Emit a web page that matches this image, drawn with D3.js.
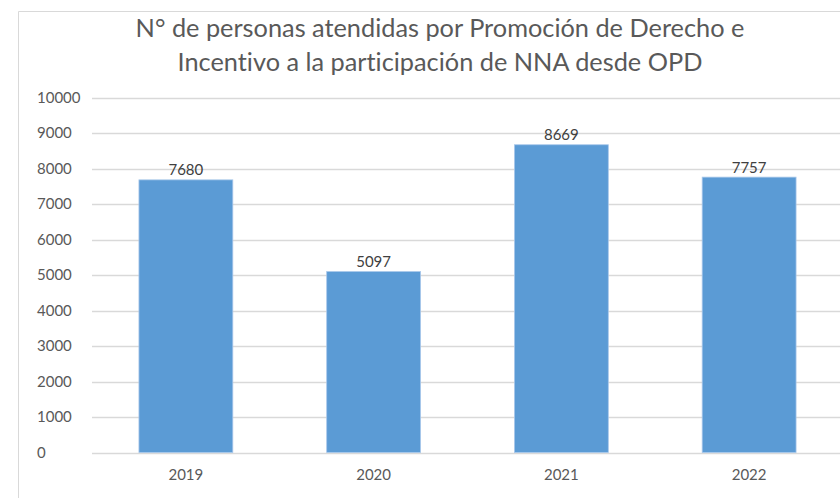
<!DOCTYPE html>
<html>
<head>
<meta charset="utf-8">
<script src="https://cdn.jsdelivr.net/npm/d3@7"></script>
<style>
  html, body { margin: 0; padding: 0; background: #fff; }
  svg { display: block; font-family: Lato, "Open Sans", sans-serif; font-variant-ligatures: none; }
</style>
</head>
<body>
<svg id="chart" width="840" height="498"></svg>
<script>
// data
var years = ["2019", "2020", "2021", "2022"]
var personas = [7680, 5097, 8669, 7757]
var yTicks = [0, 1000, 2000, 3000, 4000, 5000, 6000, 7000, 8000, 9000, 10000]
var titleLines = [
    "N° de personas atendidas por Promoción de Derecho e",
    "Incentivo a la participación de NNA desde OPD"
]

var svg = d3.select("#chart")

var x = d3.scaleBand()
    .domain(years)
    .range([92, 843])
    .paddingInner(0.5)
    .paddingOuter(0.25)

var y = d3.scaleLinear()
    .domain([0, 10000])
    .range([452.5, 97.5])

// chart area border (runs off the right edge)
svg.append("path")
    .attr("d", "M18.5,498 V11.5 H845")
    .attr("fill", "none")
    .attr("stroke", "#d9d9d9")
    .attr("stroke-width", 1)

// title
var title = svg.append("g").attr("class", "title")
title.selectAll("text")
    .data(titleLines)
    .enter().append("text")
    .attr("x", 440)
    .attr("y", function(d, i) { return 37 + i * 34 })
    .attr("text-anchor", "middle")
    .attr("fill", "#595959")
    .style("font-size", "21px")
    .text(function(d) { return d })

// fit first title line to the reference width
var w = title.select("text").node().getComputedTextLength()
title.selectAll("text").style("font-size", (21 * 609 / w) + "px")

// gridlines
svg.append("g")
    .selectAll("line")
    .data(yTicks)
    .enter().append("line")
    .attr("x1", 92)
    .attr("x2", 843)
    .attr("y1", function(d) { return Math.round(y(d)) + 0.5 })
    .attr("y2", function(d) { return Math.round(y(d)) + 0.5 })
    .attr("stroke", "#d9d9d9")
    .attr("stroke-width", 1.3)

// y axis labels
var yAxis = svg.append("g")
    .attr("transform", "translate(37,0)")
    .call(d3.axisLeft(y).tickValues(yTicks).tickFormat(d3.format("d")).tickSize(0).tickPadding(0))
yAxis.select(".domain").remove()
yAxis.selectAll("text")
    .attr("text-anchor", "start")
    .attr("x", 0)
    .attr("fill", "#595959")
    .style("font-size", "15px")
    .style("font-family", "Lato, sans-serif")

// bars
svg.append("g")
    .selectAll("rect")
    .data(years)
    .enter().append("rect")
    .attr("x", function(d) { return x(d) })
    .attr("y", function(d, i) { return y(personas[i]) })
    .attr("width", x.bandwidth())
    .attr("height", function(d, i) { return y(0) - y(personas[i]) })
    .attr("fill", "#5b9bd5")
    .attr("stroke", "#a9c8ea")
    .attr("stroke-width", 0.8)

// value labels
svg.append("g")
    .selectAll("text")
    .data(years)
    .enter().append("text")
    .attr("x", function(d) { return x(d) + x.bandwidth() / 2 })
    .attr("y", function(d, i) { return y(personas[i]) - 4.5 })
    .attr("text-anchor", "middle")
    .attr("fill", "#404040")
    .style("font-size", "15px")
    .text(function(d, i) { return personas[i] })

// x axis labels
var xAxis = svg.append("g")
    .attr("transform", "translate(0,452.5)")
    .call(d3.axisBottom(x).tickSize(0).tickPadding(0))
xAxis.select(".domain").remove()
xAxis.selectAll("text")
    .attr("y", 27.5)
    .attr("dy", 0)
    .attr("fill", "#595959")
    .style("font-size", "15px")
    .style("font-family", "Lato, sans-serif")
</script>
</body>
</html>
